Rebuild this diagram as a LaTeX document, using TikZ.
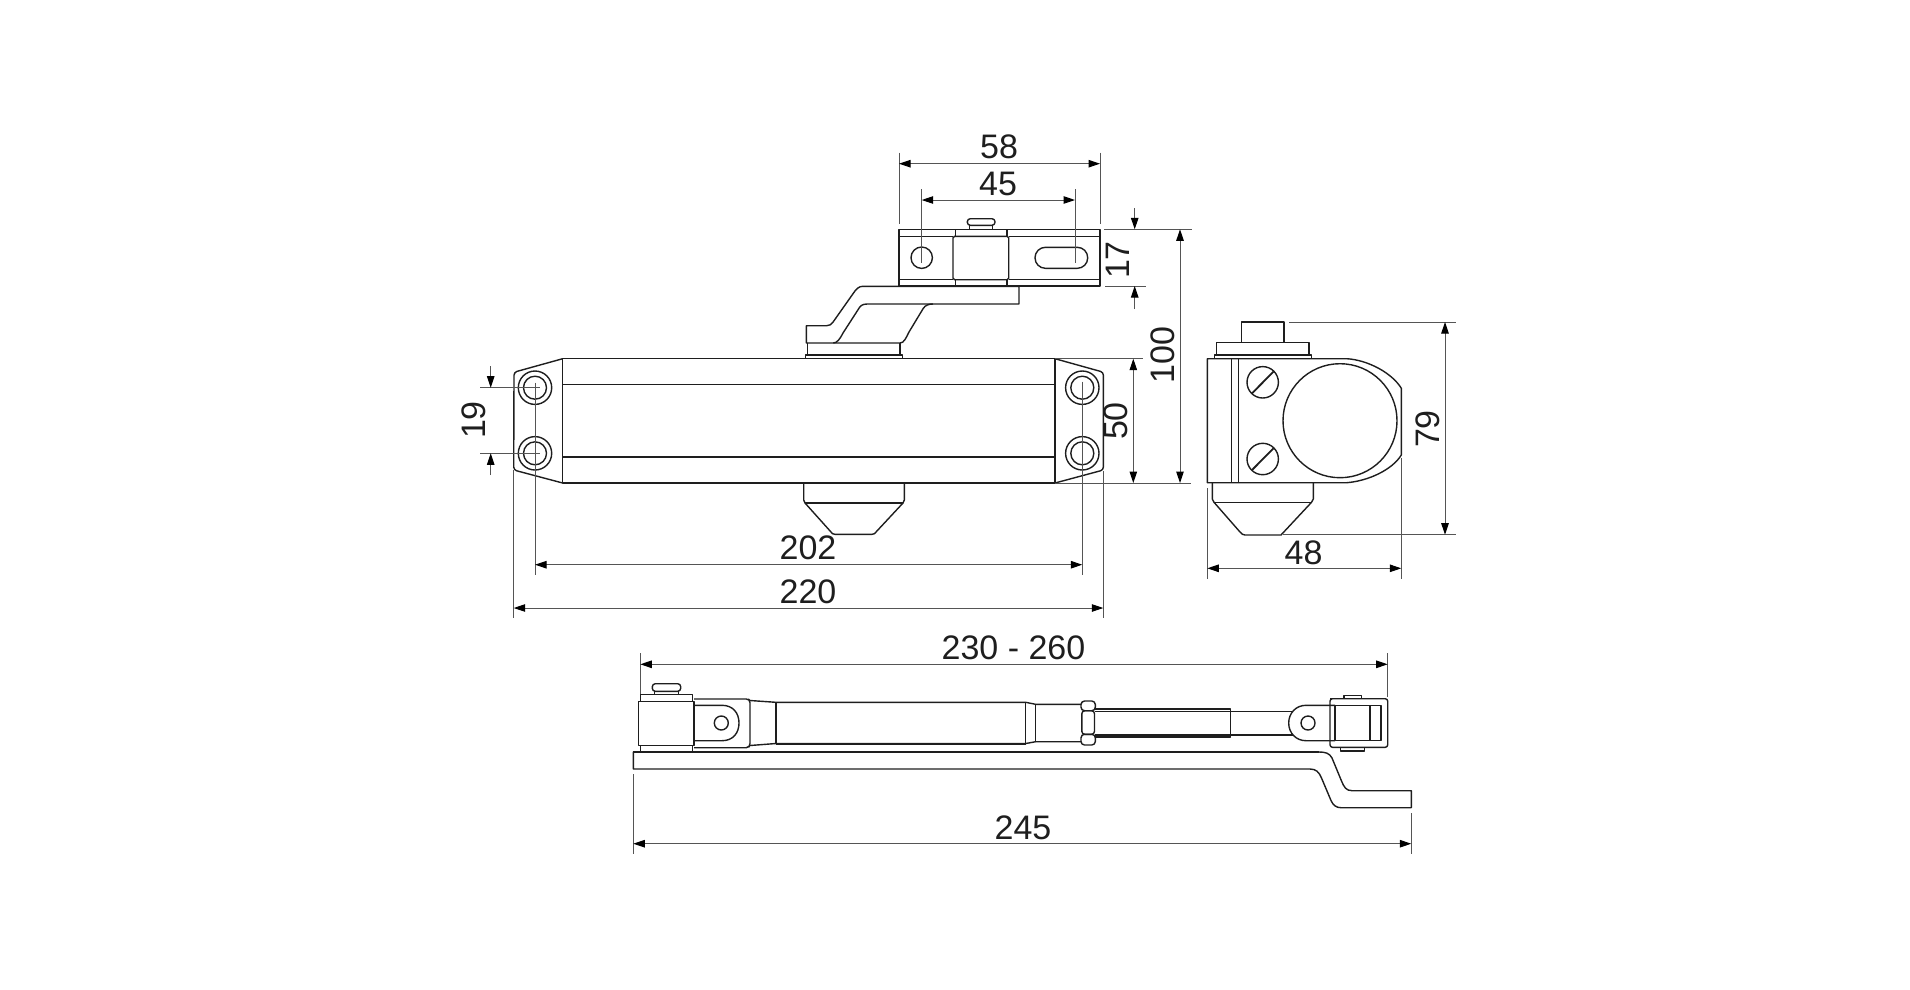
\documentclass[tikz,border=0pt]{standalone}
\usepackage{fontspec}
\setmainfont{Liberation Sans}
\usetikzlibrary{arrows.meta}
\definecolor{ink}{HTML}{1E1E1E}
\definecolor{dimc}{HTML}{555555}
\tikzset{
  part/.style={draw=ink,line width=1.4pt,line join=round},
  thick part/.style={draw=ink,line width=2pt},
  extline/.style={draw=dimc,line width=1pt},
  dimline/.style={draw=dimc,line width=1pt,{Triangle[length=11.5pt,width=7.5pt,color=black]}-{Triangle[length=11.5pt,width=7.5pt,color=black]}},
  leader/.style={draw=dimc,line width=1pt,-{Triangle[length=11.5pt,width=7.5pt,color=black]}},
  dimtext/.style={font=\fontsize{34}{34}\selectfont,text=ink,inner sep=0pt,anchor=center}
}
\begin{document}
\begin{tikzpicture}[x=1pt,y=-1pt]
\useasboundingbox (0,0) rectangle (1910,989);
% ---------- top bracket
\draw[part] (899,229.3) rectangle (1100,286);
\draw[part] (899,236.3) -- (953,236.3) (1008.7,236.3) -- (1100,236.3);
\draw[part] (899,279.7) -- (953,279.7) (1008.7,279.7) -- (1100,279.7);
\draw[part,rounded corners=1.5pt] (953,236.3) rectangle (1008.7,279.7);
\draw[part] (955.3,229.3) -- (955.3,236.3) (1007,229.3) -- (1007,236.3);
\draw[part] (955.3,279.7) -- (955.3,286) (1007,279.7) -- (1007,286);
\draw[part,rounded corners=3pt] (967.3,218.7) rectangle (995,225.3);
\draw[part] (969.3,225.3) -- (969.3,229.3) (992.7,225.3) -- (992.7,229.3);
\draw[part] (921.7,257.7) circle[radius=10.7];
\draw[part,rounded corners=10.4pt] (1035,247.3) rectangle (1087.7,268.3);
% ---------- arm
\draw[part] (900,286.3) -- (1019,286.3) -- (1019,304) -- (867.3,304)
  .. controls (862,304) and (860,306) .. (858.3,309.3)
  -- (843,333) .. controls (840,339) and (837,343) .. (833.3,343)
  -- (806.3,343) -- (806.3,325.7) -- (826.7,325.7)
  .. controls (829.5,325.7) and (831.5,324.5) .. (833.3,321.7)
  -- (853.3,293.3) .. controls (856,289) and (859,286.3) .. (862.7,286.3) -- (900,286.3);
\draw[part] (933,304) .. controls (929,304) and (925.5,305) .. (923.3,308.3)
  -- (909,332) .. controls (906,338) and (904,343) .. (900,343) -- (833.3,343);
\draw[part] (807.7,343) -- (807.7,355) (900,343) -- (900,355);
\draw[part] (805.7,358.7) -- (805.7,355) -- (902.3,355) -- (902.3,358.7);
% ---------- closer body, front view
\draw[part] (562.7,358.7) rectangle (1055,483);
\draw[part] (562.7,384.3) -- (1055,384.3) (562.7,457) -- (1055,457);
\draw[part,rounded corners=3pt] (562.7,358.7) -- (514,372.2) -- (513.7,470) -- (562.7,483);
\draw[part,rounded corners=3pt] (1055,358.7) -- (1103.4,372.2) -- (1103.4,470) -- (1055,483);
\foreach \bx/\by/\bn in {535/387.7/a,535/453.3/b,1082.3/387.7/c,1082.3/453.3/d}{
  \draw[part] (\bx,\by) circle[radius=16.7];
  \draw[part] (\bx,\by) circle[radius=11.5];
}
\draw[part] (803.7,483) -- (803.7,500) -- (805,503) -- (831,532)
  .. controls (832,533.5) and (833,534.3) .. (835,534.3) -- (872,534.3)
  .. controls (874,534.3) and (875,533.5) .. (876,532) -- (903,503) -- (904.3,500) -- (904.3,483);
\draw[part] (805,503) -- (903,503);
% ---------- side view
\draw[part] (1241.7,342.7) -- (1241.7,322) -- (1284,322) -- (1284,342.7);
\draw[part] (1216.7,355) -- (1216.7,342.7) -- (1309,342.7) -- (1309,355);
\draw[part] (1214.3,358.7) -- (1214.3,355) -- (1311.7,355) -- (1311.7,358.7);
\draw[part] (1207.3,358.7) -- (1346.7,358.7)
  .. controls (1368,360) and (1392,373) .. (1401.3,388.3) -- (1401.3,455)
  .. controls (1392,470) and (1368,481) .. (1346.7,482.7) -- (1207.3,482.7) -- cycle;
\draw[part] (1231.7,358.7) -- (1231.7,482.7) (1238.7,358.7) -- (1238.7,482.7);
\foreach \sy/\sn in {382.3/a,459/b}{
  \draw[part] (1262.7,\sy) circle[radius=15.7];
  \draw[part,line width=1.8pt] (1252,\sy+11) -- (1273.6,\sy-10.8);
}
\draw[part] (1340,420.7) circle[radius=57];
\draw[part] (1212.3,482.7) -- (1212.3,499) -- (1214,502.3) -- (1240,532)
  .. controls (1241.5,534) and (1243,535) .. (1245,535) -- (1281,535)
  -- (1311.5,502.3) -- (1313.3,499) -- (1313.3,482.7);
\draw[part] (1214,502.3) -- (1311.5,502.3);
% ---------- lower arm: bar
\draw[part] (633.3,752) -- (1319,752)
  .. controls (1325,752) and (1329.5,753) .. (1332,758)
  -- (1341.5,781) .. controls (1344,787) and (1346,790.7) .. (1352,790.7)
  -- (1411.3,790.7) -- (1411.3,807.7) -- (1341,807.7)
  .. controls (1336,807.7) and (1333,805) .. (1331,800.5)
  -- (1321.5,778) .. controls (1319,772) and (1316,769) .. (1310,769)
  -- (633.3,769) -- cycle;
\draw[thick part] (633.3,752) -- (1319,752);
% left hinge
\draw[part] (638.3,701.3) rectangle (694,745.7);
\draw[part] (640.3,701.3) -- (640.3,694.3) -- (692.3,694.3) -- (692.3,701.3);
\draw[part] (640.3,745.7) -- (640.3,752) (692.3,745.7) -- (692.3,752);
\draw[part,rounded corners=3pt] (652.3,683.7) rectangle (680.7,691.3);
\draw[part] (654.7,691.3) -- (654.7,694.3) (678.7,691.3) -- (678.7,694.3);
% left fork and tube
\draw[part,rounded corners=2pt] (694,699) -- (748.3,699) -- (750,700.5) -- (750,745.5) -- (748.3,747.7) -- (694,747.7);
\draw[part] (694,705.3) -- (722,705.3) .. controls (733,705.3) and (739,713) .. (739,723)
  .. controls (739,733) and (733,740.7) .. (722,740.7) -- (694,740.7);
\draw[part] (721.3,723) circle[radius=7];
\draw[part] (750,700.5) -- (776,702.3) -- (1025.7,702.3) -- (1035.7,704.3) -- (1081,704.3);
\draw[part] (750,745.5) -- (776,743.5) -- (1025.7,743.5) -- (1035.7,741.7) -- (1081,741.7);
\draw[thick part] (776,702.3) -- (776,743.5);
\draw[part] (1025.7,702.3) -- (1025.7,743.5) (1035.7,704.3) -- (1035.7,741.7);
\draw[part,line width=2pt] (776,743.5) -- (1025.7,743.5);
% nut
\draw[part,rounded corners=3.5pt] (1081,701) rectangle (1095.3,710.7);
\draw[part,rounded corners=3pt] (1081.8,710.7) rectangle (1094.5,734.3);
\draw[part,rounded corners=3.5pt] (1081,734.3) rectangle (1095.3,745);
% rod
\draw[part] (1095.3,709) -- (1230.7,709) -- (1230.7,737) -- (1095.3,737);
\draw[part] (1095.3,711.5) -- (1230.7,711.5);
\draw[part,line width=2pt] (1095.3,734.5) -- (1230.7,734.5);
\draw[part] (1230.7,711.3) -- (1293,711.3) (1230.7,735) -- (1293,735);
% right fork
\draw[part] (1335,705.3) -- (1306,705.3) .. controls (1296,705.3) and (1288.7,713) .. (1288.7,723)
  .. controls (1288.7,733) and (1296,740.7) .. (1306,740.7) -- (1335,740.7);
\draw[part] (1308,723) circle[radius=7];
% right hinge
\draw[part,rounded corners=2.5pt] (1335,698.7) -- (1330,698.7) -- (1330,747.3) -- (1387.7,747.3) -- (1387.7,698.7) -- (1330,698.7);
\draw[part] (1335,705.5) rectangle (1381,740.7);
\draw[thick part] (1370.3,705.5) -- (1370.3,740.7);
\draw[part] (1344,698.7) -- (1344,695.7) -- (1361.7,695.7) -- (1361.7,698.7);
\draw[part] (1340.3,747.3) -- (1340.3,751) -- (1364.7,751) -- (1364.7,747.3);
% ---------- extension lines
\draw[extline] (899,152.7) -- (899,224) (1100,152.7) -- (1100,224);
\draw[extline] (921.7,189.3) -- (921.7,263) (1075,189.3) -- (1075,263);
\draw[extline] (1104,229.3) -- (1191.7,229.3) (1105,286) -- (1145.7,286);
\draw[extline] (1055,358.7) -- (1143,358.7) (1055,483) -- (1190.7,483);
\draw[extline] (480,387.7) -- (540,387.7) (480,453.3) -- (540,453.3);
\draw[extline] (535,382.7) -- (535,575) (1082.3,381.7) -- (1082.3,575);
\draw[extline] (513.7,470) -- (513.7,618) (1103.3,470.7) -- (1103.3,618);
\draw[extline] (1289.3,322) -- (1455.7,322) (1282.7,534.7) -- (1455.7,534.7);
\draw[extline] (1207.3,488) -- (1207.3,579) (1401.3,458) -- (1401.3,579);
\draw[extline] (640.3,653.3) -- (640.3,694) (1387.7,653.3) -- (1387.7,696.7);
\draw[extline] (633.3,774.3) -- (633.3,854.3) (1411.3,813) -- (1411.3,854.3);
% ---------- dimension arrows
\coordinate (d58a) at (899,163.7);   \coordinate (d58b) at (1100,163.7);
\coordinate (d45a) at (921.7,200);   \coordinate (d45b) at (1075,200);
\coordinate (d17a) at (1134.7,208);  \coordinate (d17b) at (1134.7,229.3);
\coordinate (d17c) at (1134.7,309);  \coordinate (d17d) at (1134.7,286);
\coordinate (d100a) at (1180,229.3); \coordinate (d100b) at (1180,483);
\coordinate (d50a) at (1133.3,358.7);\coordinate (d50b) at (1133.3,483);
\coordinate (d19a) at (490.7,366);   \coordinate (d19b) at (490.7,387.7);
\coordinate (d19c) at (490.7,475);   \coordinate (d19d) at (490.7,453.3);
\coordinate (d202a) at (535,564.7);  \coordinate (d202b) at (1082.3,564.7);
\coordinate (d220a) at (513.7,608);  \coordinate (d220b) at (1103.3,608);
\coordinate (d79a) at (1445,322);    \coordinate (d79b) at (1445,534.7);
\coordinate (d48a) at (1207.3,568.3);\coordinate (d48b) at (1401.3,568.3);
\coordinate (d230a) at (640.3,664.3);\coordinate (d230b) at (1387.7,664.3);
\coordinate (d245a) at (633.3,843.7);\coordinate (d245b) at (1411.3,843.7);
\draw[dimline] (d58a) -- (d58b);
\draw[dimline] (d45a) -- (d45b);
\draw[leader] (d17a) -- (d17b);
\draw[leader] (d17c) -- (d17d);
\draw[dimline] (d100a) -- (d100b);
\draw[dimline] (d50a) -- (d50b);
\draw[leader] (d19a) -- (d19b);
\draw[leader] (d19c) -- (d19d);
\draw[dimline] (d202a) -- (d202b);
\draw[dimline] (d220a) -- (d220b);
\draw[dimline] (d79a) -- (d79b);
\draw[dimline] (d48a) -- (d48b);
\draw[dimline] (d230a) -- (d230b);
\draw[dimline] (d245a) -- (d245b);
% ---------- labels
\node[dimtext] (t58) at (999,147) {58};
\node[dimtext] (t45) at (998,183.5) {45};
\node[dimtext,rotate=90] (t17) at (1117.5,260) {17};
\node[dimtext,rotate=90] (t100) at (1162.5,355) {100};
\node[dimtext,rotate=90] (t50) at (1115.5,421) {50};
\node[dimtext,rotate=90] (t19) at (473.5,420) {19};
\node[dimtext] (t202) at (808,548) {202};
\node[dimtext] (t220) at (808,592) {220};
\node[dimtext,rotate=90] (t79) at (1427.5,429) {79};
\node[dimtext] (t48) at (1303.5,553) {48};
\node[dimtext] (t230) at (1013.5,648) {230 - 260};
\node[dimtext] (t245) at (1023,828) {245};
\end{tikzpicture}
\end{document}
